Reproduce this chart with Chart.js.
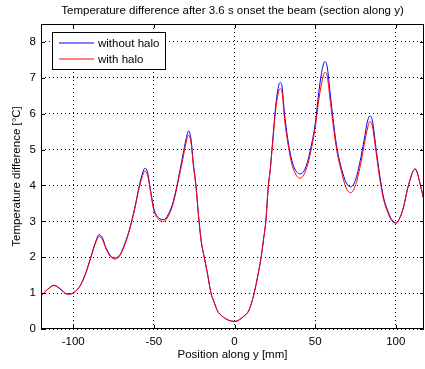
<!DOCTYPE html>
<html>
<head>
<meta charset="utf-8">
<script src="https://cdn.jsdelivr.net/npm/chart.js@4.4.1/dist/chart.umd.min.js"></script>
<style>
  html, body { margin: 0; padding: 0; background: #fff; }
</style>
</head>
<body>
<canvas id="myChart" width="425" height="369"></canvas>
<script>
// position along y [mm]
var positions = [-120, -116, -112, -108, -104, -101, -98, -95, -92, -89, -86, -84, -82, -80, -77, -74, -71, -68, -65, -62,
  -59, -57, -55.5, -54, -52, -50, -47, -44, -41, -38, -35, -32, -30, -28.5, -27, -25.5, -24, -22, -20.5, -19,
  -17, -14.6, -12.5, -10.5, -8, -6, -4, -2, 0, 2, 4, 6.5, 8.7, 10.5, 12.2, 14.5, 16.5, 18, 19.4, 21,
  22.1, 23.2, 24.2, 25.5, 27, 28.3, 29.5, 31, 33, 35, 37, 40.5, 43, 45.5, 48, 50, 52, 54, 56, 57.5,
  59, 61, 63.5, 66.5, 69, 72, 75, 78, 80.5, 82.5, 84, 85.5, 88, 90, 92.5, 95, 97.5, 100.3, 103, 105,
  107, 109, 110.5, 112, 113.5, 115, 116.3, 117.5];

var withoutHalo = [0.92, 1.1, 1.22, 1.12, 0.98, 0.99, 1.08, 1.27, 1.6, 2.02, 2.45, 2.63, 2.55, 2.3, 2.05, 1.98, 2.07, 2.38, 2.8, 3.35,
  4.0, 4.35, 4.48, 4.38, 3.85, 3.35, 3.1, 3.05, 3.2, 3.55, 4.15, 4.85, 5.3, 5.52, 5.3, 4.6, 4.05, 3.0, 2.4, 2.05,
  1.6, 1.0, 0.73, 0.5, 0.37, 0.3, 0.25, 0.22, 0.21, 0.23, 0.29, 0.38, 0.5, 0.72, 1.0, 1.5, 2.0, 2.5, 3.0, 4.0,
  4.43, 5.0, 5.54, 6.2, 6.7, 6.87, 6.75, 6.0, 5.3, 4.8, 4.5, 4.32, 4.4, 4.7, 5.2, 5.7, 6.5, 7.15, 7.45, 7.3,
  6.7, 5.9, 5.05, 4.45, 4.1, 3.96, 4.15, 4.7, 5.3, 5.8, 5.94, 5.8, 4.95, 4.3, 3.65, 3.3, 3.05, 2.96, 3.15, 3.43,
  3.85, 4.18, 4.38, 4.46, 4.33, 4.06, 3.82, 3.59];

var withHalo = [0.92, 1.1, 1.21, 1.11, 0.97, 0.98, 1.07, 1.26, 1.58, 2.0, 2.42, 2.58, 2.5, 2.27, 2.02, 1.95, 2.05, 2.35, 2.77, 3.32,
  3.95, 4.28, 4.4, 4.3, 3.8, 3.3, 3.05, 3.0, 3.15, 3.5, 4.1, 4.75, 5.2, 5.4, 5.2, 4.55, 4.0, 3.0, 2.4, 2.05,
  1.6, 1.0, 0.73, 0.5, 0.37, 0.3, 0.25, 0.22, 0.21, 0.23, 0.29, 0.38, 0.5, 0.72, 1.0, 1.5, 2.0, 2.5, 3.0, 4.0,
  4.4, 4.95, 5.45, 6.1, 6.55, 6.7, 6.6, 5.85, 5.2, 4.7, 4.4, 4.2, 4.3, 4.6, 5.1, 5.6, 6.3, 6.85, 7.15, 7.05,
  6.5, 5.75, 4.95, 4.35, 3.95, 3.8, 4.0, 4.55, 5.15, 5.6, 5.79, 5.65, 4.85, 4.2, 3.6, 3.25, 3.02, 2.95, 3.15, 3.43,
  3.85, 4.18, 4.38, 4.46, 4.33, 4.06, 3.82, 3.59];

var xTicks = [-100, -50, 0, 50, 100];
var yTicks = [0, 1, 2, 3, 4, 5, 6, 7, 8];
var seriesNames = ['without halo', 'with halo'];
var seriesColors = ['rgb(0, 0, 255)', 'rgb(255, 0, 0)'];

function pairs(vals) {
  return positions.map(function (p, i) { return { x: p, y: vals[i] }; });
}

var FONT = 'Liberation Sans, Arial, Helvetica, sans-serif';

// box, inward ticks and legend drawn like matlab
var boxPlugin = {
  id: 'box',
  afterDraw: function (chart) {
    var ctx = chart.ctx, a = chart.chartArea;
    var xs = chart.scales.x, ys = chart.scales.y;
    ctx.save();
    ctx.setLineDash([]);
    ctx.strokeStyle = '#000';
    ctx.lineWidth = 1;
    ctx.strokeRect(a.left + 0.5, a.top + 0.5, a.right - a.left - 1, a.bottom - a.top - 1);
    ctx.beginPath();
    xTicks.forEach(function (v) {
      var px = Math.round(xs.getPixelForValue(v)) + 0.5;
      ctx.moveTo(px, a.bottom); ctx.lineTo(px, a.bottom - 4);
      ctx.moveTo(px, a.top); ctx.lineTo(px, a.top + 4);
    });
    yTicks.forEach(function (v) {
      var py = Math.round(ys.getPixelForValue(v)) + 0.5;
      ctx.moveTo(a.left, py); ctx.lineTo(a.left + 4, py);
      ctx.moveTo(a.right, py); ctx.lineTo(a.right - 4, py);
    });
    ctx.stroke();

    // legend
    var lx = 52, ly = 32, lw = 113, lh = 37;
    ctx.fillStyle = '#fff';
    ctx.fillRect(lx, ly, lw, lh);
    ctx.strokeStyle = '#000';
    ctx.strokeRect(lx + 0.5, ly + 0.5, lw, lh);
    ctx.font = '11.5px ' + FONT;
    ctx.textBaseline = 'middle';
    seriesNames.forEach(function (name, i) {
      var y = ly + 11 + i * 16;
      ctx.strokeStyle = seriesColors[i];
      ctx.beginPath();
      ctx.moveTo(lx + 7, y); ctx.lineTo(lx + 42, y);
      ctx.stroke();
      ctx.fillStyle = '#000';
      ctx.fillText(name, lx + 46, y + 0.5);
    });
    ctx.restore();
  }
};

var ctx = document.getElementById('myChart').getContext('2d');
var chart = new Chart(ctx, {
  type: 'line',
  data: {
    datasets: [{
      label: seriesNames[0],
      borderColor: seriesColors[0],
      data: pairs(withoutHalo),
      order: 1
    }, {
      label: seriesNames[1],
      borderColor: seriesColors[1],
      data: pairs(withHalo),
      order: 0
    }]
  },
  options: {
    responsive: false,
    animation: false,
    devicePixelRatio: 1,
    layout: { padding: { top: 0, right: 1, left: 0, bottom: 0 } },
    elements: {
      point: { radius: 0 },
      line: { borderWidth: 1, cubicInterpolationMode: 'monotone' }
    },
    plugins: {
      legend: { display: false },
      tooltip: { enabled: false },
      title: {
        display: true,
        fullSize: false,
        text: 'Temperature difference after 3.6 s onset the beam (section along y)',
        color: '#000',
        font: { family: FONT, size: 11.5, weight: 'normal' },
        padding: { top: 4, bottom: 6.2 }
      }
    },
    scales: {
      x: {
        type: 'linear',
        min: -120,
        max: 117.5,
        afterBuildTicks: function (s) { s.ticks = xTicks.map(function (v) { return { value: v }; }); },
        afterFit: function (s) { s.height = 40; },
        grid: { color: '#000', drawTicks: false },
        border: { display: false, dash: [1, 3] },
        ticks: { color: '#000', font: { family: FONT, size: 11.5 }, padding: 6, maxRotation: 0 },
        title: {
          display: true, text: 'Position along y [mm]', color: '#000',
          font: { family: FONT, size: 11.5 }, padding: { top: 0, bottom: 7 }
        }
      },
      y: {
        min: 0,
        max: 8.5,
        afterBuildTicks: function (s) { s.ticks = yTicks.map(function (v) { return { value: v }; }); },
        afterFit: function (s) { s.width = 41; },
        grid: { color: '#000', drawTicks: false },
        border: { display: false, dash: [1, 3] },
        ticks: { color: '#000', font: { family: FONT, size: 11.5 }, padding: 5 },
        title: {
          display: true, text: 'Temperature difference [°C]', color: '#000',
          font: { family: FONT, size: 11.5 }, padding: { top: 10, bottom: 0 }
        }
      }
    }
  },
  plugins: [boxPlugin]
});
</script>
</body>
</html>
